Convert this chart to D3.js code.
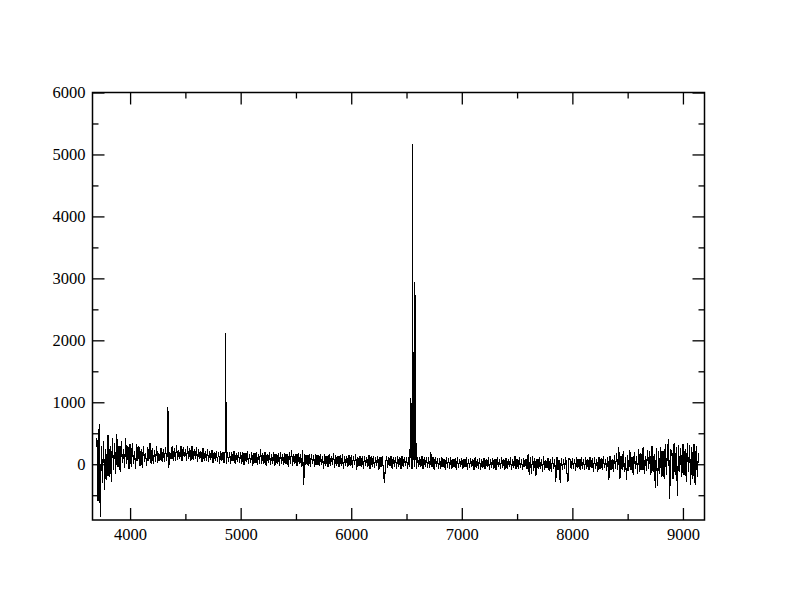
<!DOCTYPE html>
<html>
<head>
<meta charset="utf-8">
<script src="https://cdn.jsdelivr.net/npm/d3@7/dist/d3.min.js"></script>
<style>
  html, body { margin: 0; padding: 0; background: #fff; }
  svg { display: block; }
</style>
</head>
<body>
<svg id="chart" width="792" height="612"></svg>
<script>
// ---- Data ----
// Continuum flux sampled every 10 Å starting at 3700 Å
const waveStart = 3700;
const waveStep = 10;
const flux = [
  420, -600, 650, -850, 300, -300, 380, -420, 250, -250,
  470, -200, 300, -280, 420, -100, 350, -150, 480, -50,
  300, -120, 380, 20, 250, -60, 420, 10, 300, -80,
  330, -40, 350, 10, 220, -80, 330, 60, 290, -30,
  240, -60, 300, 40, 180, -20, 280, 60, 340, 10,
  260, 0, 230, 40, 290, 20, 180, 60, 260, 30,
  240, 40, 270, 60, 210, -60, 190, 80, 290, 50,
  260, 60, 310, 70, 230, 90, 300, 50, 270, 110,
  240, 60, 290, 80, 260, 50, 300, 70, 240, 90,
  270, 40, 250, 80, 220, 30, 260, 60, 210, 50,
  240, 40, 210, 70, 230, 20, 200, 60, 220, 30,
  200, 10, 220, 50, 190, 20, 210, 0, 200, 40,
  200, 10, 190, 50, 210, 0, 180, 40, 200, 20,
  190, 10, 200, -10, 180, 30, 210, 0, 170, 20,
  190, -20, 180, 20, 200, -10, 170, 10, 240, 0,
  180, 10, 190, -20, 170, 20, 200, -10, 160, 10,
  190, -20, 170, 10, 180, -30, 200, 0, 160, -10,
  180, 0, 170, -40, 190, 10, 230, -20, 160, 0,
  170, -30, 180, 10, 160, -50, 230, -340, 170, -10,
  150, -20, 170, -40, 160, 0, 140, -50, 170, -10,
  150, -30, 160, -10, 130, -70, 170, -20, 140, -40,
  160, -30, 140, -10, 180, -60, 150, -20, 130, -50,
  150, -30, 160, -80, 140, -20, 130, -40, 150, -30,
  150, -60, 130, -10, 160, -90, 120, -30, 140, -50,
  130, -70, 140, -20, 120, -50, 150, -80, 130, -40,
  140, -60, 120, -30, 130, -90, 110, -40, 140, -70,
  -300, -10, 130, -60, 120, -30, 140, -80, 110, -40,
  120, -70, 130, -40, 110, -80, 140, -50, 120, -30,
  110, -70, 120, -40, 100, -80, 130, -50, 110, -70,
  120, -50, 110, -40, 130, -80, 110, -50, 120, -60,
  110, -60, 200, -40, 110, -90, 120, -50, 100, -80,
  100, -70, 110, -50, 90, -90, 120, -60, 100, -70,
  110, -80, 90, -50, 100, -90, 110, -60, 90, -40,
  100, -70, 90, -50, 110, -90, 80, -60, 100, -50,
  90, -90, 110, -60, 80, -70, 100, -100, 90, -60,
  100, -70, 80, -50, 110, -90, 90, -60, 100, -80,
  90, -90, 110, -50, 80, -80, 120, -60, 90, -90,
  100, -70, 80, -50, 110, -100, 90, -60, 140, -80,
  90, -70, 110, -60, 80, -100, 100, -50, 90, -70,
  170, -180, 120, -150, 140, -110, 100, -190, 90, -70,
  110, -80, 90, -120, 130, -90, 70, -60, 100, -110,
  90, -130, 110, -70, 80, -280, 120, -90, 70, -300,
  100, -90, 80, -70, 110, -130, -280, 90, 70, -80,
  100, -70, 90, -110, 120, -60, 80, -90, 110, -80,
  90, -100, 120, -70, 80, -90, 110, -60, 100, -120,
  110, -80, 90, -130, 120, -70, 100, -90, 130, -60,
  90, -110, 120, -250, 130, -90, 80, -120, 150, -80,
  180, -100, 280, -240, 140, -90, 210, -130, 110, -250,
  150, -110, 230, -90, 120, -180, 200, -70, 140, -150,
  250, -130, 180, -90, 280, -160, 140, -110, 230, -80,
  210, -180, 290, -120, 170, -380, 260, -350, 220, -150,
  280, -210, 210, -230, 330, -180, 250, 400, -560, 230,
  210, -230, 340, -180, 280, -510, 310, -130, 260, -210,
  330, -180, 250, -280, 350, -130, 310, -330, 280, -230,
  330, -335, 290, -210, 180
];
// Emission-line samples (wavelength, flux)
const lineWave = [4342, 4861, 4864, 6538, 6542, 6546, 6550, 6555, 6560, 6570, 6576, 6581, 6586];
const lineFlux = [930, 2120, 2000, 1070, 400, 990, 600, 5166, 650, 500, 2945, 2440, 80];

const xDomain = [3660, 9195];
const yDomain = [-900, 6000];
const xMajorTicks = [4000, 5000, 6000, 7000, 8000, 9000];
const xMinorTicks = [4500, 5500, 6500, 7500, 8500];
const yMajorTicks = [0, 1000, 2000, 3000, 4000, 5000, 6000];
const yMinorTicks = [-500, 500, 1500, 2500, 3500, 4500, 5500];

// ---- Build the series ----
const points = flux.map((f, i) => ({ w: waveStart + i * waveStep, f }));
lineWave.forEach((w, i) => points.push({ w, f: lineFlux[i] }));
points.sort((a, b) => a.w - b.w);

// ---- Layout ----
const L = 92.5, R = 704.5, T = 92.5, B = 520;
const FONT = '"Liberation Serif", "Times New Roman", "DejaVu Serif", serif';
const svg = d3.select("#chart");
svg.append("rect").attr("width", 792).attr("height", 612).attr("fill", "#fff");

const x = d3.scaleLinear().domain(xDomain).range([L, R]);
const y = d3.scaleLinear().domain(yDomain).range([B, T]);

// data line
svg.append("path")
  .datum(points)
  .attr("fill", "none")
  .attr("stroke", "#000")
  .attr("stroke-width", 1.1)
  .attr("shape-rendering", "crispEdges")
  .attr("d", d3.line().x(d => x(d.w)).y(d => y(d.f)));

function styleAxis(g) {
  g.attr("font-family", FONT).attr("font-size", 16.5);
  g.select(".domain").remove();
  g.selectAll(".tick line").attr("stroke", "#000").attr("stroke-width", 1.3);
  g.selectAll(".tick text").attr("fill", "#000").style("font-family", FONT).style("font-size", "16.5px");
}

// bottom
svg.append("g").attr("transform", `translate(0,${B})`)
  .call(d3.axisBottom(x).tickValues(xMajorTicks).tickSize(-12).tickPadding(8).tickFormat(d3.format("d")))
  .call(styleAxis);
svg.append("g").attr("transform", `translate(0,${B})`)
  .call(d3.axisBottom(x).tickValues(xMinorTicks).tickSize(-6).tickFormat(""))
  .call(styleAxis);
// top
svg.append("g").attr("transform", `translate(0,${T})`)
  .call(d3.axisTop(x).tickValues(xMajorTicks).tickSize(-12).tickFormat(""))
  .call(styleAxis);
svg.append("g").attr("transform", `translate(0,${T})`)
  .call(d3.axisTop(x).tickValues(xMinorTicks).tickSize(-6).tickFormat(""))
  .call(styleAxis);
// left
svg.append("g").attr("transform", `translate(${L},0)`)
  .call(d3.axisLeft(y).tickValues(yMajorTicks).tickSize(-12).tickPadding(7).tickFormat(d3.format("d")))
  .call(styleAxis);
svg.append("g").attr("transform", `translate(${L},0)`)
  .call(d3.axisLeft(y).tickValues(yMinorTicks).tickSize(-6).tickFormat(""))
  .call(styleAxis);
// right
svg.append("g").attr("transform", `translate(${R},0)`)
  .call(d3.axisRight(y).tickValues(yMajorTicks).tickSize(-12).tickFormat(""))
  .call(styleAxis);
svg.append("g").attr("transform", `translate(${R},0)`)
  .call(d3.axisRight(y).tickValues(yMinorTicks).tickSize(-6).tickFormat(""))
  .call(styleAxis);

// frame
svg.append("rect")
  .attr("x", L).attr("y", T).attr("width", R - L).attr("height", B - T)
  .attr("fill", "none").attr("stroke", "#000").attr("stroke-width", 1.5);
</script>
</body>
</html>
